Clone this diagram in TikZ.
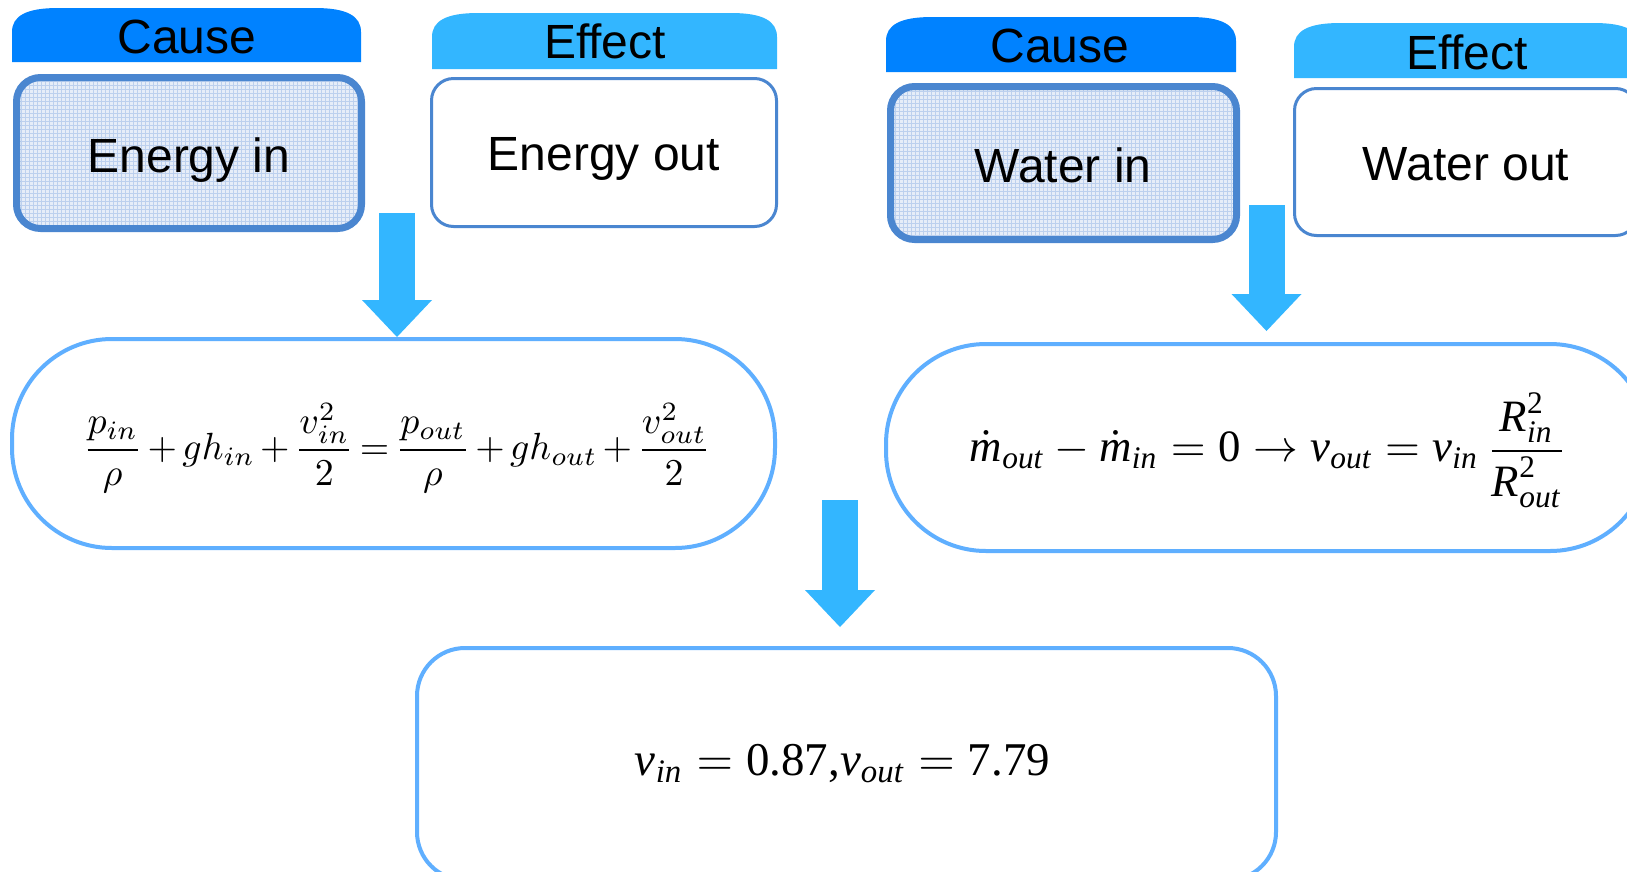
\documentclass[tikz,border=0pt]{standalone}
\usepackage{amsmath}
\usepackage{graphicx}
\usepackage{fontspec}
\newfontfamily\arialf{Liberation Sans}
\newfontfamily\tnrf{Liberation Serif}
\usetikzlibrary{arrows.meta}
\definecolor{causeC}{RGB}{0,130,255}
\definecolor{effectC}{RGB}{51,182,255}
\definecolor{arrowC}{RGB}{51,182,255}
\definecolor{boxC}{RGB}{74,134,208}
\definecolor{eqC}{RGB}{95,175,255}
\definecolor{patFill}{RGB}{230,237,248}
\definecolor{patLine}{RGB}{188,208,238}
\newcommand{\ti}[1]{\text{\tnrf\itshape #1}}
\newcommand{\tu}[1]{\text{\tnrf #1}}
\newcommand{\tabpath}[4]{(#1,#4) -- (#1,#2+24) .. controls (#1,#2+8) and (#1+14,#2) .. (#1+46,#2) -- (#3-46,#2) .. controls (#3-14,#2) and (#3,#2+8) .. (#3,#2+24) -- (#3,#4) -- cycle}
\tikzset{
  causetab/.style={fill=causeC},
  effecttab/.style={fill=effectC},
  lbl/.style={anchor=base, inner sep=0pt, font=\arialf\fontsize{48}{56}\selectfont},
  causebox/.style={draw=boxC, line width=7pt, rounded corners=24pt, fill=patFill,
    path picture={\draw[patLine, line width=1pt, step=4pt] (path picture bounding box.south west) grid (path picture bounding box.north east);}},
  effectbox/.style={draw=boxC, line width=3pt, rounded corners=22pt, fill=white},
  eqbox/.style={draw=eqC, line width=4pt, fill=white},
  formula/.style={inner sep=0pt},
  blockarrow/.style={draw=arrowC, line width=36pt, -{Triangle[width=70pt,length=37pt,line width=0pt]}}
}
\begin{document}
\begin{tikzpicture}[x=1pt,y=-1pt]
\useasboundingbox (0,0) rectangle (1627,871);
\fill[white] (0,0) rectangle (1627,871);

% tabs
\fill[causetab] \tabpath{12}{8}{361}{62};
\fill[effecttab] \tabpath{432}{13}{777}{69};
\fill[causetab] \tabpath{886}{17}{1236}{72};
\fill[effecttab] \tabpath{1294}{23}{1640}{78};
\node[lbl] (tc1) at (187,53.5) {Cause};
\node[lbl] (te1) at (605,58) {Effect};
\node[lbl] (tc2) at (1060,62) {Cause};
\node[lbl] (te2) at (1467,69) {Effect};

% boxes
\node[causebox, minimum width=345pt, minimum height=151pt] (ein) at (189,153) {};
\node[effectbox, minimum width=345pt, minimum height=148pt] (eout) at (604,152.5) {};
\node[causebox, minimum width=346pt, minimum height=153pt] (win) at (1063.5,163) {};
\node[effectbox, minimum width=343pt, minimum height=147pt] (wout) at (1466,162) {};
\node[lbl] (lein) at (189,172) {Energy in};
\node[lbl] (leout) at (604,170) {Energy out};
\node[lbl] (lwin) at (1063,182) {Water in};
\node[lbl] (lwout) at (1466,180) {Water out};

% equation boxes
\node[eqbox, rounded corners=100pt, minimum width=763pt, minimum height=209pt] (eqL) at (393.5,443.5) {};
\node[eqbox, rounded corners=100pt, minimum width=764pt, minimum height=207pt] (eqR) at (1268,447.5) {};
\node[eqbox, rounded corners=48pt, minimum width=859pt, minimum height=232pt] (res) at (846.5,764) {};

\node[formula] (fL) at (397,448) {\resizebox{628pt}{!}{\medmuskip=2.5mu\thickmuskip=3mu$\displaystyle \frac{p_{in}}{\rho}+gh_{in}+\frac{v_{in}^2}{2}=\frac{p_{out}}{\rho}+gh_{out}+\frac{v_{out}^2}{2}$}};
\node[formula] (fR) at (1268.5,450) {\resizebox{597pt}{!}{$\displaystyle \dot{\ti{m}}_{\ti{out}}-\dot{\ti{m}}_{\ti{in}}=\tu{0}\rightarrow \ti{v}_{\ti{out}}=\ti{v}_{\ti{in}}\,\frac{\ti{R}^{\tu{2}}_{\ti{in}}}{\ti{R}^{\tu{2}}_{\ti{out}}}$}};
\node[formula] (fB) at (842.5,764) {\resizebox{415pt}{!}{$\ti{v}_{\ti{in}}=\tu{0.87,}\ti{v}_{\ti{out}}=\tu{7.79}$}};

% arrows
\coordinate (a1s) at (397,213);
\coordinate (a1e) at (397,337);
\coordinate (a2s) at (1266.5,205);
\coordinate (a2e) at (1266.5,331);
\coordinate (a3s) at (840,500);
\coordinate (a3e) at (840,627);
\draw[blockarrow] (a1s) -- (a1e);
\draw[blockarrow] (a2s) -- (a2e);
\draw[blockarrow] (a3s) -- (a3e);
\end{tikzpicture}
\end{document}
